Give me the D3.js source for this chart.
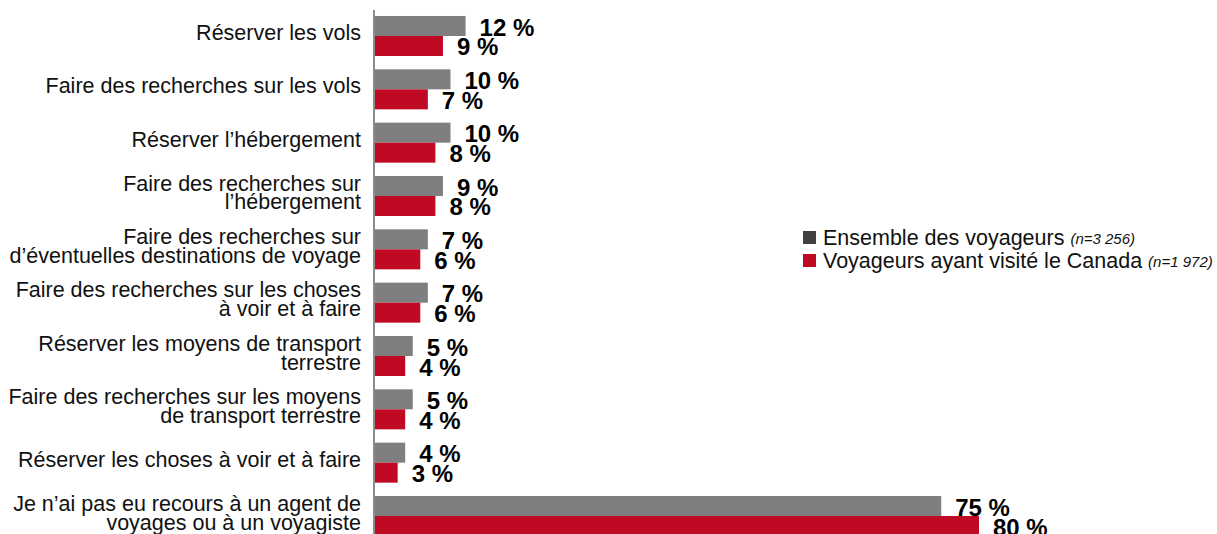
<!DOCTYPE html>
<html>
<head>
<meta charset="utf-8">
<script src="https://cdn.jsdelivr.net/npm/d3@7"></script>
<style>
  body { margin: 0; background: #fff; }
  text { font-family: "Liberation Sans", Arial, sans-serif; }
</style>
</head>
<body>
<div id="chart"></div>
<script>
const categories = [
  ["Réserver les vols"],
  ["Faire des recherches sur les vols"],
  ["Réserver l’hébergement"],
  ["Faire des recherches sur", "l’hébergement"],
  ["Faire des recherches sur", "d’éventuelles destinations de voyage"],
  ["Faire des recherches sur les choses", "à voir et à faire"],
  ["Réserver les moyens de transport", "terrestre"],
  ["Faire des recherches sur les moyens", "de transport terrestre"],
  ["Réserver les choses à voir et à faire"],
  ["Je n’ai pas eu recours à un agent de", "voyages ou à un voyagiste"]
];
const allTravellers = [12, 10, 10, 9, 7, 7, 5, 5, 4, 75];
const canadaVisitors = [9, 7, 8, 8, 6, 6, 4, 4, 3, 80];
const seriesNames = ["Ensemble des voyageurs", "Voyageurs ayant visité le Canada"];
const seriesNotes = ["(n=3 256)", "(n=1 972)"];
const colors = ["#7f7f7f", "#c00a23"];
const legendColors = ["#404040", "#c00a23"];

const width = 1217, height = 534;
const axisX = 375;

const svg = d3.select("#chart")
  .append("svg")
  .attr("width", width)
  .attr("height", height);

const keys = categories.map((d, i) => i);
const y0 = d3.scaleBand().domain(keys).range([9.33, 542.67]).paddingInner(0.25).paddingOuter(0.125);
const y1 = d3.scaleBand().domain([0, 1]).range([0, y0.bandwidth()]);
const x = d3.scaleLinear().domain([0, 100]).range([axisX, axisX + 755]);

const rows = keys.map(i => ({ i, vals: [allTravellers[i], canadaVisitors[i]] }));

const g = svg.selectAll("g.row")
  .data(rows)
  .enter()
  .append("g")
  .attr("class", "row")
  .attr("transform", d => `translate(0,${y0(d.i)})`);

g.selectAll("rect")
  .data(d => d.vals.map((v, s) => ({ v, s })))
  .enter()
  .append("rect")
  .attr("x", axisX)
  .attr("y", d => y1(d.s))
  .attr("width", d => x(d.v) - axisX)
  .attr("height", y1.bandwidth())
  .attr("fill", d => colors[d.s]);

g.selectAll("text.val")
  .data(d => d.vals.map((v, s) => ({ v, s })))
  .enter()
  .append("text")
  .attr("class", "val")
  .attr("x", d => x(d.v) + 14)
  .attr("y", d => y1(d.s) + y1.bandwidth() / 2 + 1)
  .attr("dominant-baseline", "central")
  .attr("font-size", 24)
  .attr("font-weight", "bold")
  .attr("fill", "#000")
  .text(d => d.v + " %");

// category labels
const lineH = 19;
g.append("text")
  .attr("text-anchor", "end")
  .attr("font-size", 21.5)
  .attr("fill", "#111")
  .each(function(d) {
    const lines = categories[d.i];
    const t = d3.select(this);
    lines.forEach((ln, k) => {
      t.append("tspan")
        .attr("x", 361)
        .attr("y", y0.bandwidth() / 2 - 3 + (k - (lines.length - 1) / 2) * lineH)
        .attr("dominant-baseline", "central")
        .text(ln);
    });
  });

// axis line
svg.append("line")
  .attr("x1", axisX - 1).attr("x2", axisX - 1)
  .attr("y1", 10).attr("y2", height)
  .attr("stroke", "#8c8c8c")
  .attr("stroke-width", 2);

// legend
const legend = svg.append("g").attr("transform", "translate(803,231)");
seriesNames.forEach((name, s) => {
  const lg = legend.append("g").attr("transform", `translate(0,${s * 23})`);
  lg.append("rect").attr("width", 13).attr("height", 13).attr("fill", legendColors[s]);
  const t = lg.append("text")
    .attr("x", 20)
    .attr("y", 7)
    .attr("dominant-baseline", "central")
    .attr("font-size", 21.5)
    .attr("fill", "#111");
  t.append("tspan").text(name + " ");
  t.append("tspan").attr("font-size", 15).attr("font-style", "italic").text(seriesNotes[s]);
});
</script>
</body>
</html>
